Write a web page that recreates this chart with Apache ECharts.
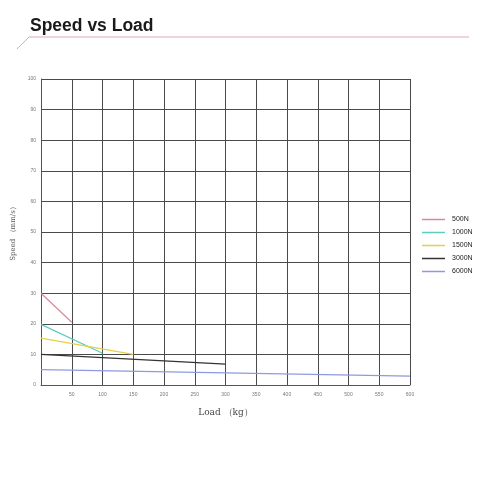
<!DOCTYPE html>
<html>
<head>
<meta charset="utf-8">
<script src="https://cdn.jsdelivr.net/npm/echarts@6/dist/echarts.min.js"></script>
<style>
    html, body { margin: 0; padding: 0; background: #fff; }
    #main { width: 480px; height: 480px; }
</style>
</head>
<body>
<div id="main"></div>
<script>
// 图例名称
var seriesNames = ['500N', '1000N', '1500N', '3000N', '6000N'];
var seriesColors = ['#d9899a', '#5ccbc3', '#e3d246', '#333333', '#8c9ae0'];

// 各负载曲线 [load, speed]
var load500 = [0, 50];
var speed500 = [30, 20.5];
var load1000 = [0, 100];
var speed1000 = [19.8, 10.4];
var load1500 = [0, 150];
var speed1500 = [15.3, 10];
var load3000 = [0, 300];
var speed3000 = [10, 6.8];
var load6000 = [0, 600];
var speed6000 = [5, 2.9];

var loads = [load500, load1000, load1500, load3000, load6000];
var speeds = [speed500, speed1000, speed1500, speed3000, speed6000];

var myChart = echarts.init(document.getElementById('main'));

var series = [];
for (var i = 0; i < seriesNames.length; i++) {
    var pts = [];
    for (var j = 0; j < loads[i].length; j++) {
        pts.push([loads[i][j], speeds[i][j]]);
    }
    series.push({
        name: seriesNames[i],
        type: 'line',
        data: pts,
        symbol: 'none',
        lineStyle: { color: seriesColors[i], width: 1.2 },
        itemStyle: { color: seriesColors[i] }
    });
}

var option = {
    animation: false,
    graphic: [
        {
            type: 'text', left: 30, top: 17,
            style: { text: 'Speed vs Load', font: 'bold 17.5px "Liberation Sans", Arial, sans-serif', fill: '#1a1a1a' }
        },
        {
            type: 'polyline',
            shape: { points: [[17, 49], [29, 37], [469, 37]] },
            style: { stroke: '#e2a6b4', lineWidth: 1, fill: null }
        }
    ],
    grid: { left: 41, right: 70, top: 79, bottom: 95 },
    legend: {
        orient: 'vertical',
        left: 417,
        top: 211,
        itemGap: 6,
        itemWidth: 23,
        itemHeight: 1.5,
        icon: 'rect',
        textStyle: { fontSize: 7, color: '#222', fontFamily: 'Liberation Sans Narrow, Liberation Sans', padding: [0, 0, 0, 2] },
        data: seriesNames
    },
    xAxis: {
        type: 'value',
        min: 0, max: 600, interval: 50,
        name: 'Load （kg）',
        nameLocation: 'middle',
        nameGap: 23,
        nameTextStyle: { fontSize: 9, color: '#444', fontFamily: 'DejaVu Serif' },
        axisLine: { show: true, lineStyle: { color: '#555' } },
        axisTick: { show: false },
        axisLabel: {
            fontSize: 5, color: '#777', margin: 7,
            formatter: function (v) { return v === 0 ? '' : v; }
        },
        splitLine: { show: true, lineStyle: { color: '#4a4a4a', width: 1 } }
    },
    yAxis: {
        type: 'value',
        min: 0, max: 100, interval: 10,
        name: 'Speed （mm/s）',
        nameLocation: 'middle',
        nameGap: 20,
        nameTextStyle: { fontSize: 7, color: '#555', fontFamily: 'DejaVu Serif' },
        axisLine: { show: true, lineStyle: { color: '#555' } },
        axisTick: { show: false },
        axisLabel: { fontSize: 5, color: '#777', margin: 5 },
        splitLine: { show: true, lineStyle: { color: '#4a4a4a', width: 1 } }
    },
    series: series
};

myChart.setOption(option);
</script>
</body>
</html>
